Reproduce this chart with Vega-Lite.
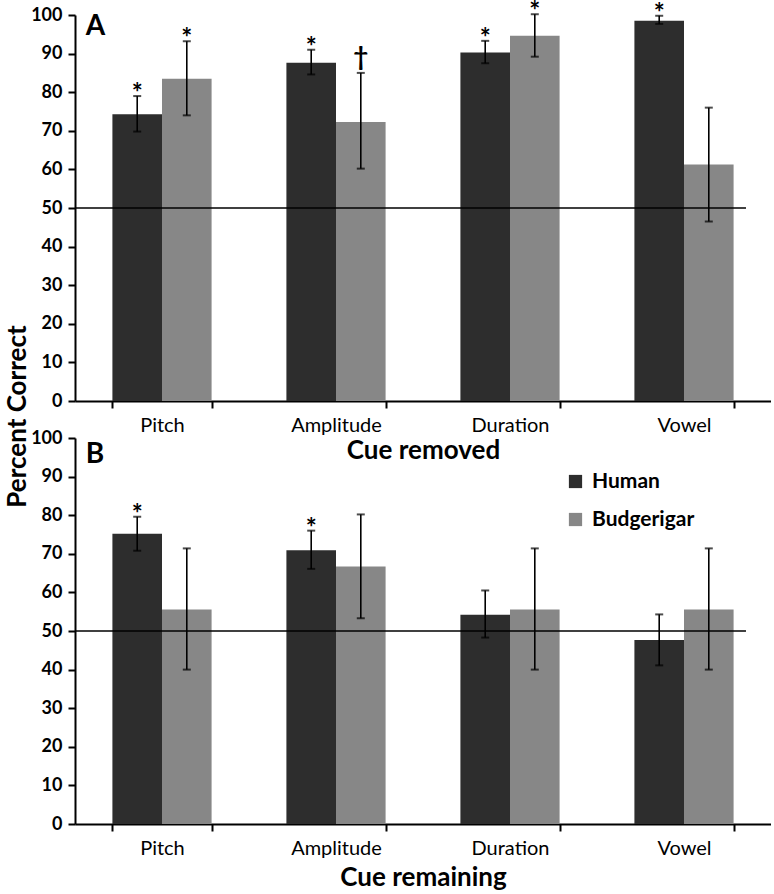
{
  "$schema": "https://vega.github.io/schema/vega-lite/v6.json",
  "padding": {"left": 4, "top": -1, "right": 0, "bottom": 0},
  "bounds": "flush",
  "spacing": 37,
  "config": {
    "font": "Lato",
    "view": {"stroke": null},
    "axis": {"domainColor": "black", "domainWidth": 2, "tickColor": "black", "tickWidth": 2, "labelColor": "black", "titleColor": "black", "grid": false},
    "axisY": {"tickCount": 11, "labelOverlap": false, "labelFontSize": 18, "labelFontWeight": "bold", "tickSize": 7, "labelPadding": 6}
  },
  "resolve": {"scale": {"color": "independent"}, "legend": {"color": "independent"}},
  "datasets": {
    "A": [
      {"cue": "Pitch", "species": "Human", "value": 74.3, "lo": 69.8, "hi": 79.0, "sig": "*"},
      {"cue": "Pitch", "species": "Budgerigar", "value": 83.5, "lo": 74.0, "hi": 93.2, "sig": "*"},
      {"cue": "Amplitude", "species": "Human", "value": 87.6, "lo": 84.6, "hi": 91.0, "sig": "*"},
      {"cue": "Amplitude", "species": "Budgerigar", "value": 72.3, "lo": 60.2, "hi": 85.0, "sig": "†"},
      {"cue": "Duration", "species": "Human", "value": 90.3, "lo": 87.5, "hi": 93.3, "sig": "*"},
      {"cue": "Duration", "species": "Budgerigar", "value": 94.6, "lo": 89.2, "hi": 100.2, "sig": "*"},
      {"cue": "Vowel", "species": "Human", "value": 98.5, "lo": 97.7, "hi": 99.8, "sig": "*"},
      {"cue": "Vowel", "species": "Budgerigar", "value": 61.3, "lo": 46.5, "hi": 76.0, "sig": ""}
    ],
    "B": [
      {"cue": "Pitch", "species": "Human", "value": 75.2, "lo": 70.8, "hi": 79.6, "sig": "*"},
      {"cue": "Pitch", "species": "Budgerigar", "value": 55.6, "lo": 40.0, "hi": 71.4, "sig": ""},
      {"cue": "Amplitude", "species": "Human", "value": 70.9, "lo": 66.1, "hi": 76.0, "sig": "*"},
      {"cue": "Amplitude", "species": "Budgerigar", "value": 66.7, "lo": 53.3, "hi": 80.2, "sig": ""},
      {"cue": "Duration", "species": "Human", "value": 54.2, "lo": 48.3, "hi": 60.5, "sig": ""},
      {"cue": "Duration", "species": "Budgerigar", "value": 55.6, "lo": 40.0, "hi": 71.4, "sig": ""},
      {"cue": "Vowel", "species": "Human", "value": 47.7, "lo": 41.1, "hi": 54.3, "sig": ""},
      {"cue": "Vowel", "species": "Budgerigar", "value": 55.6, "lo": 40.0, "hi": 71.4, "sig": ""}
    ]
  },
  "vconcat": [
    {
      "width": 696, "height": 386,
      "data": {"name": "A"},
      "layer": [
        {
          "mark": {"type": "bar"},
          "encoding": {
            "x": {"field": "cue", "type": "nominal", "sort": ["Pitch", "Amplitude", "Duration", "Vowel"], "scale": {"paddingInner": 0.43, "paddingOuter": 0.215},
              "axis": {"title": "Cue removed", "titleFontSize": 26, "titleFontWeight": "bold", "labelFontSize": 20, "labelFontWeight": "normal", "labelAngle": 0, "tickBand": "extent", "tickSize": 7, "labelPadding": 7, "titlePadding": 2}},
            "xOffset": {"field": "species", "type": "nominal", "sort": ["Human", "Budgerigar"]},
            "y": {"field": "value", "type": "quantitative", "scale": {"domain": [0, 100]},
              "axis": {"values": [0, 10, 20, 30, 40, 50, 60, 70, 80, 90, 100], "title": "Percent Correct", "titleFontSize": 26, "titleFontWeight": "bold", "titleY": 401, "titlePadding": 0}},
            "color": {"field": "species", "type": "nominal", "scale": {"domain": ["Human", "Budgerigar"], "range": ["#2d2d2d", "#878787"]}, "legend": null}
          }
        },
        {
          "data": {"values": [{"ref": 50}]},
          "mark": {"type": "rule", "color": "black", "strokeWidth": 1.5},
          "encoding": {
            "y": {"field": "ref", "type": "quantitative"},
            "x": {"datum": "Pitch", "bandPosition": -0.375},
            "x2": {"datum": "Vowel", "bandPosition": 1.125}
          }
        },
        {
          "data": {"values": [{"label": "A", "pos": 94.8}]},
          "mark": {"type": "text", "fontSize": 28, "fontWeight": "bold", "align": "left", "baseline": "alphabetic", "color": "black"},
          "encoding": {
            "x": {"datum": "Pitch", "bandPosition": -0.27},
            "y": {"field": "pos", "type": "quantitative"},
            "text": {"field": "label"}
          }
        },
        {
          "mark": {"type": "rule", "color": "black", "strokeWidth": 1.6},
          "encoding": {
            "x": {"field": "cue", "type": "nominal", "sort": ["Pitch", "Amplitude", "Duration", "Vowel"]},
            "xOffset": {"field": "species", "type": "nominal", "sort": ["Human", "Budgerigar"]},
            "y": {"field": "lo", "type": "quantitative"},
            "y2": {"field": "hi"}
          }
        },
        {
          "mark": {"type": "tick", "color": "black", "thickness": 2, "size": 8, "orient": "horizontal"},
          "encoding": {
            "x": {"field": "cue", "type": "nominal", "sort": ["Pitch", "Amplitude", "Duration", "Vowel"]},
            "xOffset": {"field": "species", "type": "nominal", "sort": ["Human", "Budgerigar"]},
            "y": {"field": "lo", "type": "quantitative"}
          }
        },
        {
          "mark": {"type": "tick", "color": "black", "thickness": 2, "size": 8, "orient": "horizontal"},
          "encoding": {
            "x": {"field": "cue", "type": "nominal", "sort": ["Pitch", "Amplitude", "Duration", "Vowel"]},
            "xOffset": {"field": "species", "type": "nominal", "sort": ["Human", "Budgerigar"]},
            "y": {"field": "hi", "type": "quantitative"}
          }
        },
        {
          "transform": [{"filter": "datum.sig === '*'"}],
          "mark": {"type": "text", "fontSize": 26, "fontWeight": "bold", "baseline": "alphabetic", "dy": 6, "color": "black"},
          "encoding": {
            "x": {"field": "cue", "type": "nominal", "sort": ["Pitch", "Amplitude", "Duration", "Vowel"]},
            "xOffset": {"field": "species", "type": "nominal", "sort": ["Human", "Budgerigar"]},
            "y": {"field": "hi", "type": "quantitative"},
            "text": {"field": "sig"}
          }
        },
        {
          "transform": [{"filter": "datum.sig === '†'"}],
          "mark": {"type": "text", "fontSize": 26, "fontWeight": "bold", "baseline": "alphabetic", "dy": -7, "color": "black"},
          "encoding": {
            "x": {"field": "cue", "type": "nominal", "sort": ["Pitch", "Amplitude", "Duration", "Vowel"]},
            "xOffset": {"field": "species", "type": "nominal", "sort": ["Human", "Budgerigar"]},
            "y": {"field": "hi", "type": "quantitative"},
            "text": {"field": "sig"}
          }
        }
      ]
    },
    {
      "width": 696, "height": 386,
      "data": {"name": "B"},
      "layer": [
        {
          "mark": {"type": "bar"},
          "encoding": {
            "x": {"field": "cue", "type": "nominal", "sort": ["Pitch", "Amplitude", "Duration", "Vowel"], "scale": {"paddingInner": 0.43, "paddingOuter": 0.215},
              "axis": {"title": "Cue remaining", "titleFontSize": 26, "titleFontWeight": "bold", "labelFontSize": 20, "labelFontWeight": "normal", "labelAngle": 0, "tickBand": "extent", "tickSize": 7, "labelPadding": 7, "titlePadding": 6}},
            "xOffset": {"field": "species", "type": "nominal", "sort": ["Human", "Budgerigar"]},
            "y": {"field": "value", "type": "quantitative", "scale": {"domain": [0, 100]},
              "axis": {"values": [0, 10, 20, 30, 40, 50, 60, 70, 80, 90, 100], "title": null}},
            "color": {"field": "species", "type": "nominal", "scale": {"domain": ["Human", "Budgerigar"], "range": ["#2d2d2d", "#878787"]},
              "legend": {"orient": "none", "legendX": 490, "legendY": 33, "title": null, "symbolType": "square", "symbolSize": 175, "symbolStrokeWidth": 0, "labelFontSize": 21, "labelFontWeight": "bold", "labelColor": "black", "rowPadding": 16, "labelOffset": 6}}
          }
        },
        {
          "data": {"values": [{"ref": 50}]},
          "mark": {"type": "rule", "color": "black", "strokeWidth": 1.5},
          "encoding": {
            "y": {"field": "ref", "type": "quantitative"},
            "x": {"datum": "Pitch", "bandPosition": -0.375},
            "x2": {"datum": "Vowel", "bandPosition": 1.125}
          }
        },
        {
          "data": {"values": [{"label": "B", "pos": 93.5}]},
          "mark": {"type": "text", "fontSize": 28, "fontWeight": "bold", "align": "left", "baseline": "alphabetic", "color": "black"},
          "encoding": {
            "x": {"datum": "Pitch", "bandPosition": -0.27},
            "y": {"field": "pos", "type": "quantitative"},
            "text": {"field": "label"}
          }
        },
        {
          "mark": {"type": "rule", "color": "black", "strokeWidth": 1.6},
          "encoding": {
            "x": {"field": "cue", "type": "nominal", "sort": ["Pitch", "Amplitude", "Duration", "Vowel"]},
            "xOffset": {"field": "species", "type": "nominal", "sort": ["Human", "Budgerigar"]},
            "y": {"field": "lo", "type": "quantitative"},
            "y2": {"field": "hi"}
          }
        },
        {
          "mark": {"type": "tick", "color": "black", "thickness": 2, "size": 8, "orient": "horizontal"},
          "encoding": {
            "x": {"field": "cue", "type": "nominal", "sort": ["Pitch", "Amplitude", "Duration", "Vowel"]},
            "xOffset": {"field": "species", "type": "nominal", "sort": ["Human", "Budgerigar"]},
            "y": {"field": "lo", "type": "quantitative"}
          }
        },
        {
          "mark": {"type": "tick", "color": "black", "thickness": 2, "size": 8, "orient": "horizontal"},
          "encoding": {
            "x": {"field": "cue", "type": "nominal", "sort": ["Pitch", "Amplitude", "Duration", "Vowel"]},
            "xOffset": {"field": "species", "type": "nominal", "sort": ["Human", "Budgerigar"]},
            "y": {"field": "hi", "type": "quantitative"}
          }
        },
        {
          "transform": [{"filter": "datum.sig === '*'"}],
          "mark": {"type": "text", "fontSize": 26, "fontWeight": "bold", "baseline": "alphabetic", "dy": 6, "color": "black"},
          "encoding": {
            "x": {"field": "cue", "type": "nominal", "sort": ["Pitch", "Amplitude", "Duration", "Vowel"]},
            "xOffset": {"field": "species", "type": "nominal", "sort": ["Human", "Budgerigar"]},
            "y": {"field": "hi", "type": "quantitative"},
            "text": {"field": "sig"}
          }
        }
      ]
    }
  ]
}
